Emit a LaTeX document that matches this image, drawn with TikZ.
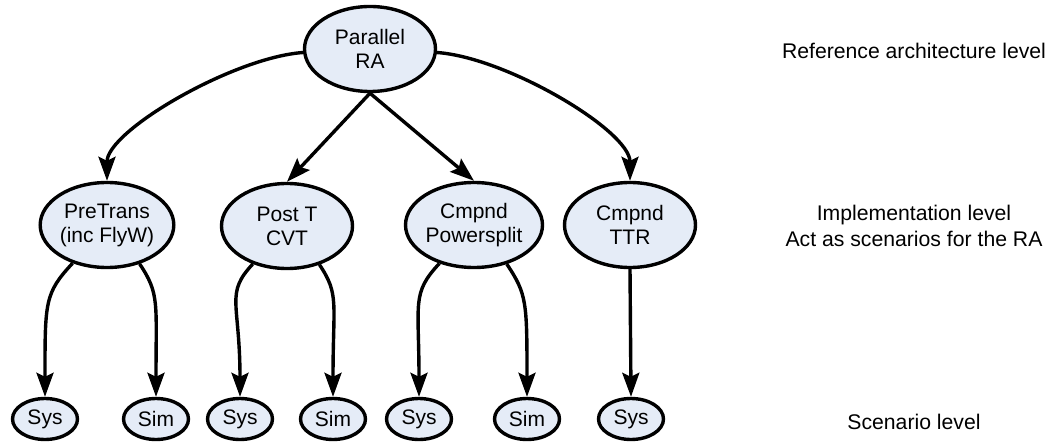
\documentclass[tikz,border=0pt]{standalone}
\usepackage{fontspec}
\setmainfont{Liberation Sans}
\usetikzlibrary{shapes.geometric,arrows.meta}
\definecolor{nodefill}{RGB}{229,236,247}
\tikzset{
  txt/.style={font=\fontsize{21}{24}\selectfont, align=center, inner sep=0pt},
  bignode/.style={txt, ellipse, draw, line width=3.4pt, fill=nodefill,
    minimum width=131pt, minimum height=85pt},
  smallnode/.style={txt, ellipse, draw, line width=3.4pt, fill=nodefill,
    minimum width=65pt, minimum height=41pt},
  link/.style={line width=3.4pt, -{Stealth[length=24pt,width=17pt,inset=4pt]}},
  levellabel/.style={font=\fontsize{21.2}{26}\selectfont, align=center, inner sep=0pt}
}
\begin{document}
\begin{tikzpicture}[x=1pt,y=-1pt]
\useasboundingbox (0,0) rectangle (1048,446);

% reference architecture
\node[bignode] (ra) at (370,49) {Parallel\\RA};

% implementations
\node[bignode] (pre) at (107,225) {PreTrans\\(inc FlyW)};
\node[bignode] (post) at (287,226) {Post T\\CVT};
\node[bignode] (split) at (474,225) {Cmpnd\\Powersplit};
\node[bignode] (ttr) at (630,225) {Cmpnd\\TTR};

% scenarios
\node[smallnode] (sys1) at (45,419) {Sys};
\node[smallnode] (sim1) at (156,419) {Sim};
\node[smallnode] (sys2) at (240,419) {Sys};
\node[smallnode] (sim2) at (333,419) {Sim};
\node[smallnode] (sys3) at (419,419) {Sys};
\node[smallnode] (sim3) at (527,419) {Sim};
\node[smallnode] (sys4) at (631,419) {Sys};

% level captions
\node[levellabel, anchor=base] (l1) at (914,59) {Reference architecture level};
\node[levellabel, anchor=center] (l2) at (914,226) {Implementation level\\Act as scenarios for the RA};
\node[levellabel, anchor=base] (l3) at (914,429) {Scenario level};

% RA to implementations
\draw[link] (ra.183) .. controls +(-70,5) and +(0,-50) .. (pre.north);
\draw[link] (ra.south) -- (post.north);
\draw[link] (ra.south) -- (split.north);
\draw[link] (ra.-3) .. controls +(70,5) and +(0,-50) .. (ttr.north);

% implementations to scenarios
\draw[link] (pre.-132) .. controls +(-28,30) and +(0,-95) .. (sys1.north);
\draw[link] (pre.-50) .. controls +(20,30) and +(0,-95) .. (sim1.north);
\draw[link] (post.-132) .. controls +(-28,30) and +(0,-95) .. (sys2.north);
\draw[link] (post.-50) .. controls +(20,30) and +(0,-95) .. (sim2.north);
\draw[link] (split.-132) .. controls +(-28,30) and +(0,-95) .. (sys3.north);
\draw[link] (split.-50) .. controls +(20,30) and +(0,-95) .. (sim3.north);
\draw[link] (ttr.south) -- (sys4.north);
\end{tikzpicture}
\end{document}
